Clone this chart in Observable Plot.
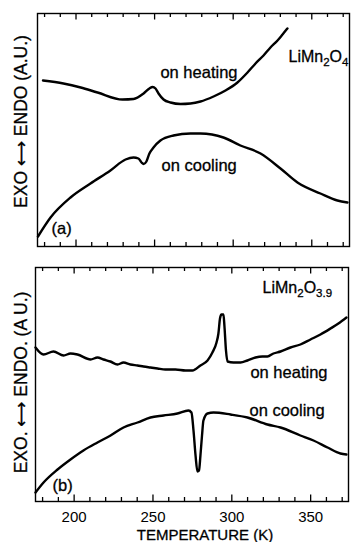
<!DOCTYPE html>
<html><head><meta charset="utf-8">
<script src="https://cdn.jsdelivr.net/npm/d3@7"></script>
<script src="https://cdn.jsdelivr.net/npm/@observablehq/plot@0.6"></script>
<style>body{margin:0;background:#fff} #chart svg{display:block}</style>
</head><body><div id="chart"></div>
<script>
// ---- data (temperature K, signal arbitrary units) ----
const heatA_T = [179,192,203,213.7,229.6,236.6,243,246.7,248.7,250.6,252.5,255.7,260.1,266.5,272.8,279.2,287.5,295.1,302.7,309.1,314.2,319.3,323.7,328.2,331.4,334.5];
const heatA_S = [166,163,159,154,147,147.5,153,158,159.5,158,153,147,144,142.5,143,145,150,156,164,174,183,191,199,206,212,218];
const coolA_T = [175.8,183.8,196.5,209.2,221.9,231.5,236.6,239.7,241.7,243,244.8,246.7,249.3,253.7,262,272.8,279.2,293.8,304.6,317.4,330.1,340.9,355.5,366.3,372.7];
const coolA_S = [10,29,49,63,76,87,89,88,84,82.5,85,93,99,106,111,113,113,109,101,93,78,64,53,46,44];
const heatB_T = [175.5,180.6,186.9,193.3,197.7,202.1,210.4,214.8,218.6,223,227.5,231.3,235.7,240.2,244,248.4,252.9,257.9,264.3,270.6,275,280.1,284.6,287.7,290.3,291.5,292.5,293.4,294.7,295.3,296.3,297.3,301.1,305.5,309.9,315,319.4,322.6,326.4,330.9,337.2,343.5,349.9,356.2,362.6,367.6,372.7];
const heatB_S = [154,147,150,146,148,147,142,144,142,140,137,139,137,136,135,134,133,132,132,131,131,136,141,149,159,168,183,187,187,176,151,140,139,139,141,144,145,145,148,150,154,157,162,167,173,178,184];
const coolB_T = [175.5,180.6,189.5,197.7,205.9,214.8,223.1,231.3,240.2,248.4,256.7,265.5,272.5,274.4,275.7,277,278.2,279.2,280.1,281.1,282,284.6,288.4,299.2,309.9,322.6,330.9,343.5,351.8,360.7,368.9,372.7];
const coolB_S = [9,19,32,42,51,59,66,74,79,84,86,88,91,89,71,46,30,31,46,66,81,88,89,87,84,77,74,66,61,54,48,47];

const majorTicks = [200,250,300,350];
const minorTicks = [180,190,210,220,230,240,260,270,280,290,310,320,330,340,360,370];
const xDomain = [175.5,374];

const yLabelA = "EXO ⟷ ENDO (A.U.)";
const yLabelB = "EXO. ⟷ ENDO. (A U.)";
const xLabel = "TEMPERATURE (K)";
const notesA = [
  {T:253.7, S:169, text:"on heating"},
  {T:254.4, S:76, text:"on cooling"},
  {T:184.4, S:13, text:"(a)"}
];
const formulaA = [{T:335.2, S:185, text:"LiMn2O4"}];
const notesB = [
  {T:311.8, S:124, text:"on heating"},
  {T:311.2, S:86, text:"on cooling"},
  {T:186.3, S:11, text:"(b)"}
];
const formulaB = [{T:319.5, S:209, text:"LiMn2O3.9"}];
const formulas = {
  "LiMn2O4": [["LiMn",0],["2",1],["O",0],["4",1]],
  "LiMn2O3.9": [["LiMn",0],["2",1],["O",0],["3.9",1]]
};

const font = "'Liberation Sans', Arial, Helvetica, 'DejaVu Sans', sans-serif";
const zip = (T,S) => T.map((t,i)=>({T:t,S:S[i]}));

function panel({height, mt, mb, ml, mr, yMax, heat, cool, notes, formula, yLabel, yLabelAt, yLabelDx, bottomLabels}) {
  const fh = height - mt - mb;          // frame height in px
  const u = yMax / fh;                   // data units per px
  const ticks = (values, len) => [
    Plot.ruleX(values, {x:d=>d, y1:0, y2:len*u, stroke:"black", strokeWidth:1.3}),
    Plot.ruleX(values, {x:d=>d, y1:yMax - len*u, y2:yMax, stroke:"black", strokeWidth:1.3})
  ];
  const marks = [
    ...ticks(minorTicks, 4),
    ...ticks(majorTicks, 6.5),
    Plot.frame({stroke:"black", strokeWidth:1.4}),
    Plot.line(heat, {x:"T", y:"S", curve:"monotone-x", stroke:"black", strokeWidth:2.4}),
    Plot.line(cool, {x:"T", y:"S", curve:"monotone-x", stroke:"black", strokeWidth:2.4}),
    Plot.text(notes, {x:"T", y:"S", text:"text", textAnchor:"start", lineAnchor:"bottom", fontSize:16.5, fill:"black", stroke:"black", strokeWidth:0.3}),
    Plot.text(formula, {x:"T", y:"S", text:"text", textAnchor:"start", lineAnchor:"bottom", fontSize:16, fill:"black", stroke:"black", strokeWidth:0.3}),
    Plot.text([yLabel], {y:[yLabelAt], frameAnchor:"left", dx:yLabelDx, rotate:-90, textAnchor:"middle", lineAnchor:"middle", fontSize:17.5, fill:"black", stroke:"black", strokeWidth:0.3})
  ];
  if (bottomLabels) {
    marks.push(Plot.axisX({anchor:"bottom", ticks:majorTicks, tickSize:0, tickPadding:9.5, fontSize:15, fill:"black", stroke:"black", strokeWidth:0.3, label:null}));
    marks.push(Plot.text([xLabel], {x:[283], frameAnchor:"bottom", dy:38.5, lineAnchor:"bottom", fontSize:15, fill:"black", stroke:"black", strokeWidth:0.3}));
  }
  const svg = Plot.plot({
    width:351, height, marginTop:mt, marginBottom:mb, marginLeft:ml, marginRight:mr,
    x:{domain:xDomain, axis:null},
    y:{domain:[0,yMax], axis:null},
    style:{fontFamily:font, fontSize:"15px", color:"black", background:"white"},
    marks
  });
  d3.select(svg).selectAll("text").each(function(){
    const parts = formulas[this.textContent];
    if (!parts) return;
    const t = d3.select(this);
    t.text(null);
    parts.forEach(([s,sub])=>{
      t.append("tspan").text(s)
        .attr("font-size", sub ? 11.5 : null)
        .attr("baseline-shift", sub ? "-4" : null);
    });
  });
  return svg;
}

const chart = document.getElementById("chart");
chart.appendChild(panel({height:255, mt:13, mb:9, ml:37, mr:2, yMax:233,
  heat:zip(heatA_T,heatA_S), cool:zip(coolA_T,coolA_S), notes:notesA, formula:formulaA,
  yLabel:yLabelA, yLabelAt:125, yLabelDx:-16, bottomLabels:false}));
chart.appendChild(panel({height:287, mt:12, mb:41, ml:35, mr:3, yMax:234,
  heat:zip(heatB_T,heatB_S), cool:zip(coolB_T,coolB_S), notes:notesB, formula:formulaB,
  yLabel:yLabelB, yLabelAt:119, yLabelDx:-14, bottomLabels:true}));
</script></body></html>
